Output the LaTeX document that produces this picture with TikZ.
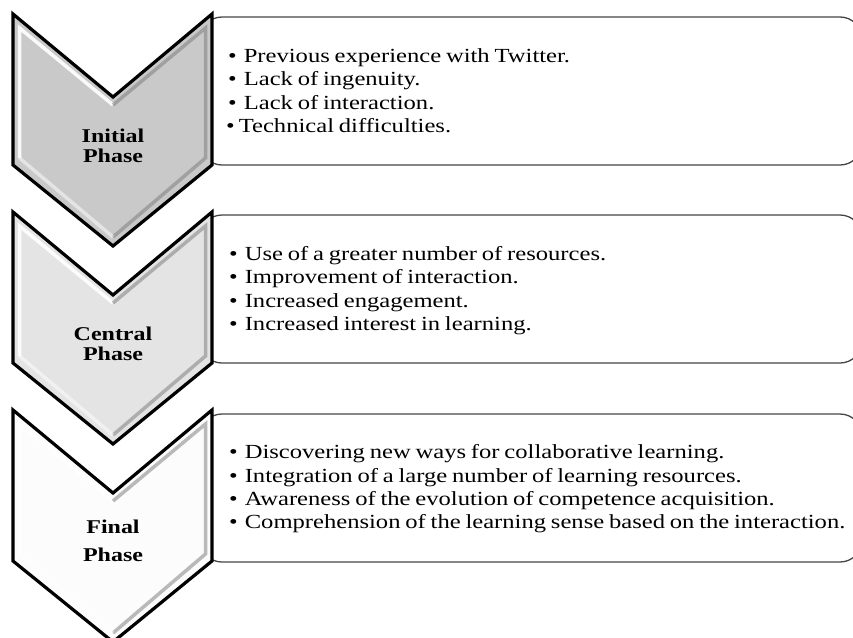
\documentclass[tikz,border=0pt]{standalone}
\usepackage{fontspec}
\setmainfont{Liberation Serif}[FakeStretch=1.23]
\definecolor{boxline}{RGB}{70,70,70}
\definecolor{chevA}{RGB}{201,201,201}
\definecolor{chevB}{RGB}{228,228,228}
\definecolor{chevC}{RGB}{252,252,252}
\definecolor{bevdark}{RGB}{120,120,120}
% list text: slightly tighter word spaces
\newcommand\listfont{\fontsize{20}{23}\selectfont\setlength{\spaceskip}{4.8pt plus 1pt minus 1pt}}
\begin{document}
\begin{tikzpicture}[x=1pt,y=-1pt,
  infobox/.style={draw=boxline, line width=1.3pt, fill=white, rounded corners=22pt},
  chevout/.style={draw=black, line width=3.2pt, line join=miter},
  bevlight/.style={draw=white, line width=3.5pt, line join=miter, opacity=0.9},
  bevshade/.style={draw=bevdark, line width=3.5pt, line join=miter, opacity=0.5},
  itemtext/.style={anchor=base west, inner sep=0pt, font=\listfont},
  phase/.style={anchor=base, inner sep=0pt, font=\fontsize{19.5}{23}\selectfont\bfseries}]
\useasboundingbox (0,0) rectangle (853,637);
\begin{scope}
\clip (0,0) rectangle (853,637);

% text panels (their right ends run past the edge)
\draw[infobox] (200,17)  rectangle (862,165);
\draw[infobox] (200,215) rectangle (862,363);
\draw[infobox] (200,414) rectangle (862,562);

% one chevron: fill colour, vertical offset
\newcommand\phasechevron[2]{%
  \begin{scope}[shift={(0,#2)}]
    \fill[#1] (13,14) -- (113,97) -- (212,14) -- (212,165) -- (113,246) -- (13,165) -- cycle;
    \draw[bevlight] (19.5,158) -- (19.5,28) -- (113,105);
    \draw[bevshade] (113,105) -- (205.5,28) -- (205.5,158) -- (113,237);
    \draw[bevlight, opacity=0.5] (113,237) -- (19.5,158);
    \draw[chevout] (13,14) -- (113,97) -- (212,14) -- (212,165) -- (113,246) -- (13,165) -- cycle;
  \end{scope}}
\phasechevron{chevA}{0}
\phasechevron{chevB}{198}
\phasechevron{chevC}{396}
\end{scope}

% phase labels
\node[phase] (p1a) at (113,142) {Initial};
\node[phase] (p1b) at (113,162) {Phase};
\node[phase] (p2a) at (113,340) {Central};
\node[phase] (p2b) at (113,360) {Phase};
\node[phase] (p3a) at (113,533) {Final};
\node[phase] (p3b) at (113,561) {Phase};

% initial phase items
\node[itemtext] (a1) at (228,62)  {\textbullet\hspace{7pt}Previous experience with Twitter.};
\node[itemtext] (a2) at (228,85)  {\textbullet\hspace{7pt}Lack of ingenuity.};
\node[itemtext] (a3) at (228,109) {\textbullet\hspace{7pt}Lack of interaction.};
\node[itemtext] (a4) at (226,132) {\textbullet\hspace{4pt}Technical difficulties.};

% central phase items
\node[itemtext] (b1) at (229,260) {\textbullet\hspace{7pt}Use of a greater number of resources.};
\node[itemtext] (b2) at (229,283) {\textbullet\hspace{7pt}Improvement of interaction.};
\node[itemtext] (b3) at (229,307) {\textbullet\hspace{7pt}Increased engagement.};
\node[itemtext] (b4) at (229,330) {\textbullet\hspace{7pt}Increased interest in learning.};

% final phase items
\node[itemtext] (c1) at (229,458) {\textbullet\hspace{7pt}Discovering new ways for collaborative learning.};
\node[itemtext] (c2) at (229,482) {\textbullet\hspace{7pt}Integration of a large number of learning resources.};
\node[itemtext] (c3) at (229,505) {\textbullet\hspace{7pt}Awareness of the evolution of competence acquisition.};
\node[itemtext] (c4) at (229,528) {\textbullet\hspace{7pt}Comprehension of the learning sense based on the interaction.};
\end{tikzpicture}
\end{document}
